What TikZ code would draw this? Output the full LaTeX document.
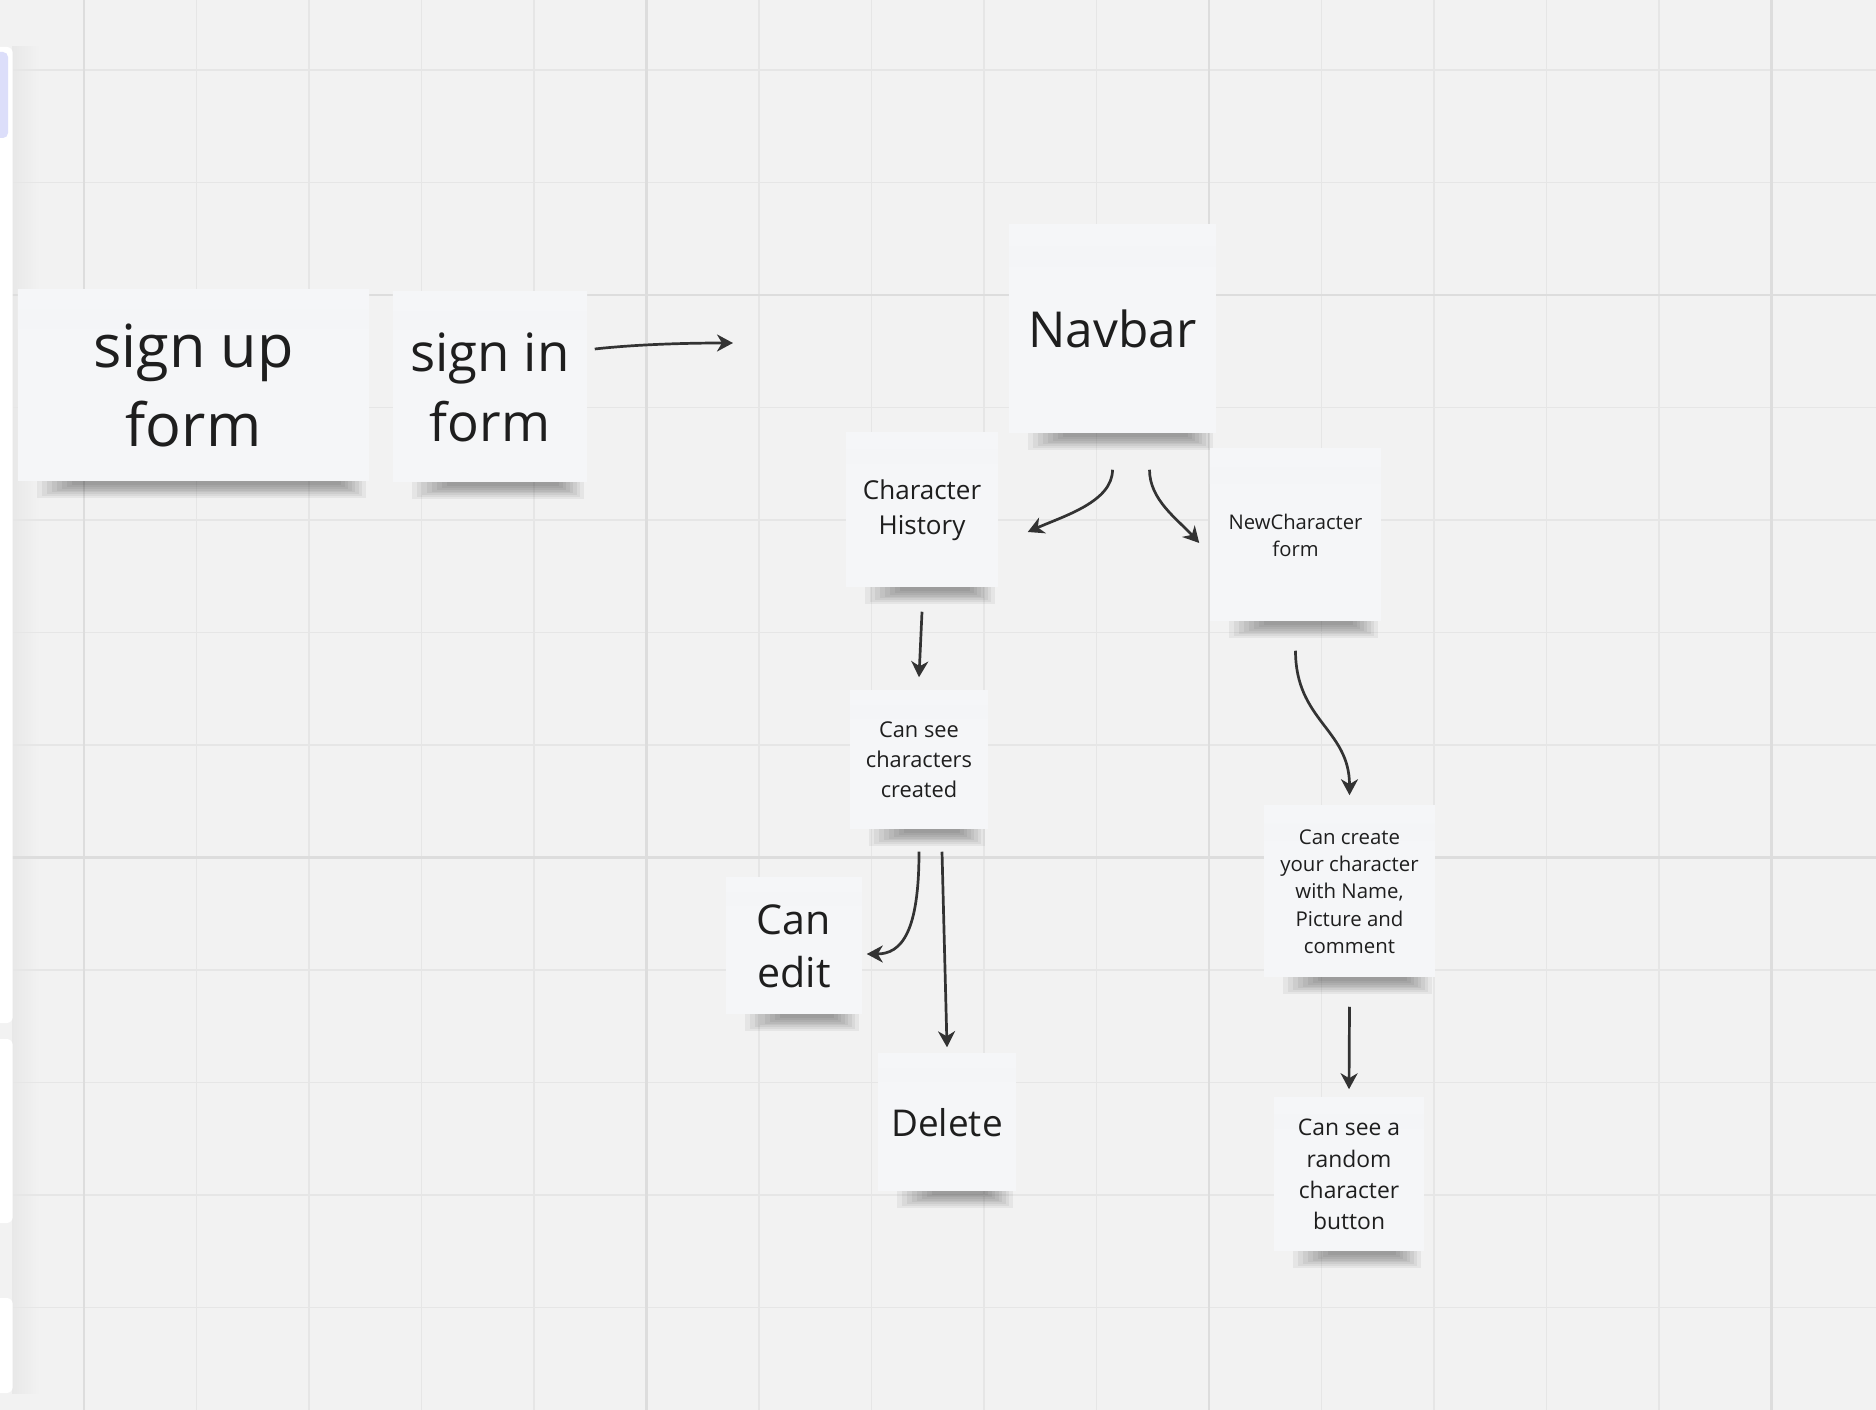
\documentclass[tikz,border=0pt]{standalone}
\usepackage{fontspec}
\setmainfont{Open Sans}
\usetikzlibrary{arrows.meta,calc,positioning}

\definecolor{board}{HTML}{F2F2F2}
\definecolor{gridminor}{HTML}{E6E6E6}
\definecolor{gridmajor}{HTML}{DDDDDD}
\definecolor{notefill}{HTML}{F5F6F8}
\definecolor{notetop}{HTML}{F0F1F3}
\definecolor{ink}{HTML}{1E1E1E}
\definecolor{linkgray}{HTML}{333333}
\definecolor{toolhi}{HTML}{DCDEFA}

\pgfdeclarelayer{board}
\pgfsetlayers{board,main}

\begin{document}
\begin{tikzpicture}
    [x=0.01cm,y=-0.01cm,
    note/.style={fill=notefill,text=ink,align=center,inner sep=0pt,
      path picture={\shade[top color=notefill,bottom color=notetop]
        (path picture bounding box.north west) rectangle
        ($(path picture bounding box.north east)!0.2!(path picture bounding box.south east)$);}},
    link/.style={-{Stealth[length=0.16cm,width=0.17cm,inset=0.05cm]},draw=linkgray,line width=0.027cm}]

    \useasboundingbox (0,0) rectangle (1876,1410);

    % board, toolbar and grid
    \begin{pgfonlayer}{board}
      \fill[board] (0,0) rectangle (1876,1410);
      \shade[left color=black!9,right color=board] (12,47) rectangle (40,1393);
      \foreach \k in {0,...,15}
        \draw[gridminor,line width=0.018cm] ({84+112.5*\k},0) -- ({84+112.5*\k},1410);
      \foreach \k in {0,...,11}
        \draw[gridminor,line width=0.018cm] (0,{70+112.5*\k}) -- (1876,{70+112.5*\k});
      \foreach \gx in {84,646.5,1209,1771.5}
        \draw[gridmajor,line width=0.025cm] (\gx,0) -- (\gx,1410);
      \foreach \gy in {295,857.5}
        \draw[gridmajor,line width=0.025cm] (0,\gy) -- (1876,\gy);
      \fill[white,rounded corners=0.06cm] (-20,47) rectangle (12.7,1023);
      \fill[white,rounded corners=0.06cm] (-20,1039) rectangle (12.7,1223);
      \fill[white,rounded corners=0.06cm] (-20,1298) rectangle (12.7,1393);
      \fill[toolhi,rounded corners=0.05cm] (-20,52) rectangle (8,138);
    \end{pgfonlayer}

    % sticky notes
    \node[note,minimum width=3.51cm,minimum height=1.91cm,
      font=\fontsize{16.9}{22.2}\selectfont] (signup) at (193.5,385.5) {sign up\\form};
    \node[note,minimum width=1.94cm,minimum height=1.90cm,
      font=\fontsize{15}{19.9}\selectfont] (signin) at (490,387) {sign in\\form};
    \node[note,minimum width=2.07cm,minimum height=2.08cm,
      font=\fontsize{14.1}{18}\selectfont] (navbar) at (1112.5,329) {Navbar};
    \node[note,minimum width=1.52cm,minimum height=1.54cm,
      font=\fontsize{7.4}{10}\selectfont] (history) at (922,510) {Character\\History};
    \node[note,minimum width=1.71cm,minimum height=1.72cm,
      font=\fontsize{5.75}{7.7}\selectfont] (newchar) at (1295.5,535) {NewCharacter\\form};
    \node[note,minimum width=1.38cm,minimum height=1.38cm,
      font=\fontsize{6.2}{8.5}\selectfont] (cansee) at (919,760) {Can see\\characters\\created};
    \node[note,minimum width=1.36cm,minimum height=1.36cm,
      font=\fontsize{11.7}{15.1}\selectfont] (canedit) at (794,946) {Can\\edit};
    \node[note,minimum width=1.38cm,minimum height=1.37cm,
      font=\fontsize{10.5}{13}\selectfont] (delete) at (947,1122.5) {Delete};
    \node[note,minimum width=1.71cm,minimum height=1.71cm,
      font=\fontsize{5.8}{7.74}\selectfont] (cancreate) at (1349.5,891.5)
      {Can create\\your character\\with Name,\\Picture and\\comment};
    \node[note,minimum width=1.50cm,minimum height=1.53cm,
      font=\fontsize{6.5}{8.9}\selectfont] (canrandom) at (1349,1174.5)
      {Can see a\\random\\character\\button};

    % soft shadows under the notes
    \begin{pgfonlayer}{board}
      \foreach \n in {signup,signin,navbar,history,newchar,cansee,canedit,delete,cancreate,canrandom}
        \foreach \i in {0,...,7}
          \fill[black,opacity=0.05]
            ([xshift={0.2cm+\i*0.05cm},yshift=0.04cm]\n.south west) rectangle
            ([xshift={-0.04cm-\i*0.035cm},yshift={-0.16cm+\i*0.018cm}]\n.south east);
    \end{pgfonlayer}

    % connectors
    \coordinate (signin-tip) at (733,343);
    \draw[link] ([shift={(7,-38)}]signin.east) .. controls +(45,-5) and +(-40,0) .. (signin-tip);
    \draw[link] ([shift={(0,36)}]navbar.south) .. controls +(0,32) and +(36,-16) .. ([shift={(29,22)}]history.east);
    \draw[link] ([shift={(37,36)}]navbar.south) .. controls +(0,30) and +(-22,-24) .. ([shift={(-10,8)}]newchar.west);
    \draw[link] ([shift={(0,24)}]history.south) -- ([shift={(0,-13)}]cansee.north);
    \draw[link] ([shift={(0,29)}]newchar.south) .. controls +(0,70) and +(0,-66) .. ([shift={(0,-10)}]cancreate.north);
    \draw[link] ([shift={(0,22)}]cansee.south) .. controls +(0,80) and +(35,0) .. ([shift={(4,8)}]canedit.east);
    \draw[link] ([shift={(23,22)}]cansee.south) -- ([shift={(0,-6)}]delete.north);
    \draw[link] ([shift={(0,29)}]cancreate.south) -- ([shift={(0,-8)}]canrandom.north);
  \end{tikzpicture}
\end{document}
